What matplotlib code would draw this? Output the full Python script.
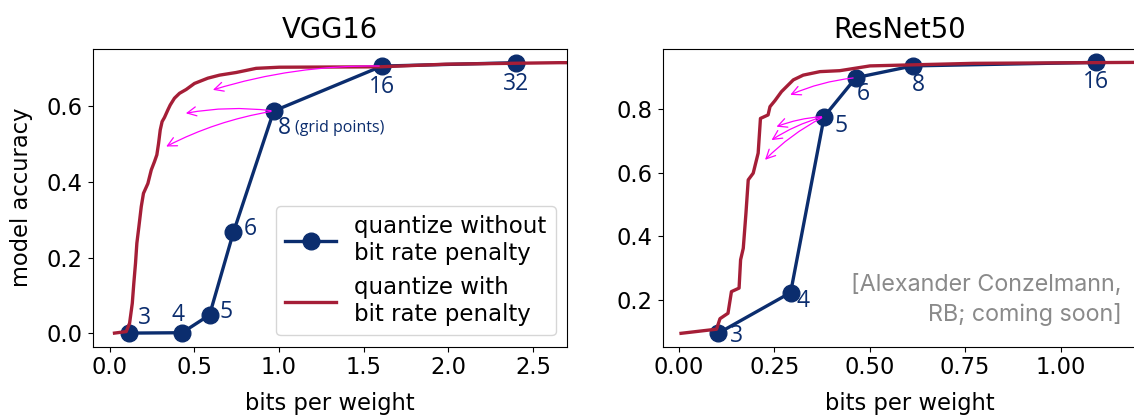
#!/usr/bin/env python3
"""Accuracy vs. bits per weight for VGG16 / ResNet50, with and without bit rate penalty."""

import matplotlib
matplotlib.use("Agg")
import matplotlib.pyplot as plt

# -----------------------------------------------------------------------------
# data
# -----------------------------------------------------------------------------

vgg_grid_bits = [3, 4, 5, 6, 8, 16, 32]
vgg_grid_x = [0.114, 0.428, 0.590, 0.731, 0.969, 1.608, 2.400]
vgg_grid_acc = [0.000, 0.001, 0.048, 0.267, 0.588, 0.707, 0.716]

vgg_pen_x = [0.029, 0.098, 0.118, 0.134, 0.143, 0.153, 0.161, 0.173, 0.187, 0.200,
             0.226, 0.246, 0.265, 0.279, 0.289, 0.299, 0.310, 0.324, 0.344, 0.358,
             0.383, 0.413, 0.452, 0.501, 0.580, 0.649, 0.747, 0.865, 1.002, 1.592,
             1.985, 2.653, 2.800]
vgg_pen_acc = [0.000, 0.004, 0.026, 0.079, 0.132, 0.185, 0.238, 0.282, 0.335, 0.370,
               0.396, 0.432, 0.454, 0.472, 0.502, 0.538, 0.560, 0.571, 0.591, 0.604,
               0.622, 0.635, 0.645, 0.661, 0.675, 0.683, 0.690, 0.701, 0.704, 0.705,
               0.712, 0.716, 0.716]

res_grid_bits = [3, 4, 5, 6, 8, 16]
res_grid_x = [0.103, 0.293, 0.381, 0.464, 0.613, 1.092]
res_grid_acc = [0.095, 0.223, 0.776, 0.898, 0.935, 0.946]

res_pen_x = [0.006, 0.099, 0.108, 0.129, 0.138, 0.158, 0.162, 0.169, 0.176, 0.182,
             0.195, 0.208, 0.214, 0.234, 0.239, 0.252, 0.269, 0.300, 0.326, 0.370,
             0.422, 0.501, 0.772, 1.190, 1.300]
res_pen_acc = [0.095, 0.108, 0.141, 0.158, 0.226, 0.237, 0.326, 0.362, 0.472, 0.577,
               0.598, 0.661, 0.770, 0.781, 0.807, 0.826, 0.854, 0.891, 0.906, 0.917,
               0.920, 0.935, 0.943, 0.946, 0.946]

# hand-drawn arrows: (from grid point index, to (x, acc))
vgg_arrows = [(5, (0.61, 0.644)), (4, (0.45, 0.582)), (4, (0.334, 0.494))]
res_arrows = [(3, (0.292, 0.844)), (2, (0.256, 0.744)), (2, (0.243, 0.702)),
              (2, (0.226, 0.640))]

# label offsets (points) for the bit-count annotations
vgg_offsets = [(11, 11), (-3, 13), (12, 2), (12, 2), (8, -12), (0, -15), (0, -15)]
res_offsets = [(13, -2), (9, -6), (12, -7), (5, -12), (4, -14), (0, -14)]

# -----------------------------------------------------------------------------

BLUE = "#0b2d6e"
RED = "#a51e37"
MAGENTA = "#ff00ff"

plt.rcParams["font.size"] = 16.3
ann_font = "Open Sans"


def draw_panel(ax, gx, gy, bits, px, py, offsets, arrows):
    ax.plot(gx, gy, "-o", color=BLUE, lw=2.4, ms=12,
            label="quantize without\nbit rate penalty")
    ax.plot(px, py, "-", color=RED, lw=2.4,
            label="quantize with\nbit rate penalty")
    for b, x, y, off in zip(bits, gx, gy, offsets):
        ax.annotate(str(b), (x, y), xytext=off, textcoords="offset points",
                    ha="center", va="center", color=BLUE,
                    fontsize=16.5, family=ann_font)
    for i, target in arrows:
        ax.annotate("", xy=target, xytext=(gx[i], gy[i]),
                    arrowprops=dict(arrowstyle="->", color=MAGENTA, lw=0.9,
                                    connectionstyle="arc3,rad=0.08",
                                    shrinkA=2, shrinkB=0))
    ax.set_xlabel("bits per weight", labelpad=9)


fig = plt.figure(figsize=(11.34, 4.17), dpi=100)

ax1 = fig.add_axes([0.0817, 0.1686, 0.4183, 0.7146])
draw_panel(ax1, vgg_grid_x, vgg_grid_acc, vgg_grid_bits, vgg_pen_x, vgg_pen_acc,
           vgg_offsets, vgg_arrows)
ax1.annotate("(grid points)", (vgg_grid_x[4], vgg_grid_acc[4]), xytext=(15, -12),
             textcoords="offset points", ha="left", va="center", color=BLUE,
             fontsize=11.5, family=ann_font)
ax1.set_xlim(-0.10, 2.70)
ax1.set_ylim(-0.036, 0.753)
ax1.set_xticks([0.0, 0.5, 1.0, 1.5, 2.0, 2.5])
ax1.set_yticks([0.0, 0.2, 0.4, 0.6])
ax1.set_ylabel("model accuracy", labelpad=10)
ax1.set_title("VGG16", fontsize=19.8, pad=8)
ax1.legend(loc="lower right", fontsize=16.5, handlelength=2.2,
           borderaxespad=0.5, labelspacing=0.5)

ax2 = fig.add_axes([0.5844, 0.1686, 0.435, 0.7146])
draw_panel(ax2, res_grid_x, res_grid_acc, res_grid_bits, res_pen_x, res_pen_acc,
           res_offsets, res_arrows)
ax2.set_xlim(-0.042, 1.25)
ax2.set_ylim(0.053, 0.989)
ax2.set_xticks([0.0, 0.25, 0.5, 0.75, 1.0])
ax2.set_yticks([0.2, 0.4, 0.6, 0.8])
ax2.set_title("ResNet50", fontsize=19.8, pad=8, x=0.481)
ax2.text(1.16, 0.20, "[Alexander Conzelmann,\nRB; coming soon]",
         ha="right", va="center", color="#8a8a8a", fontsize=16.8,
         family="Inter", linespacing=1.4)

fig.savefig("out.png", dpi=100)
